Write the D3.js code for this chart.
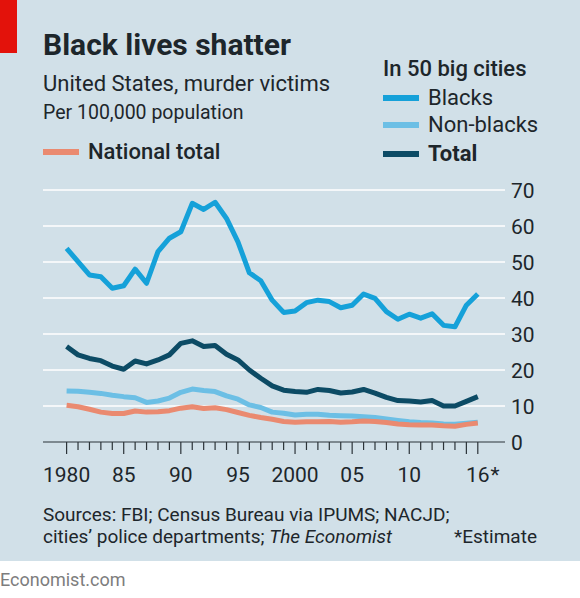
<!DOCTYPE html>
<html>
<head>
<meta charset="utf-8">
<script src="https://cdn.jsdelivr.net/npm/d3@7"></script>
<style>
  html, body { margin: 0; padding: 0; background: #ffffff; }
  svg { display: block; font-family: Roboto, "Noto Sans", sans-serif; }
</style>
</head>
<body>
<div id="chart"></div>
<script>
const years = d3.range(1980, 2017);

const blacks = [
  53.8, 50.1, 46.4, 45.9, 42.7, 43.4, 48.0, 44.1, 52.9, 56.6,
  58.4, 66.3, 64.6, 66.6, 62.1, 55.6, 47.0, 44.8, 39.4, 36.0,
  36.4, 38.7, 39.4, 39.0, 37.3, 38.0, 41.1, 39.9, 36.2, 34.1,
  35.5, 34.4, 35.6, 32.4, 32.0, 38.0, 41.1,
];

const nonBlacks = [
  14.2, 14.1, 13.8, 13.5, 13.0, 12.6, 12.3, 11.0, 11.4, 12.2,
  13.8, 14.7, 14.3, 14.0, 12.8, 11.9, 10.3, 9.6, 8.3, 8.0,
  7.5, 7.7, 7.7, 7.4, 7.3, 7.2, 7.0, 6.8, 6.4, 6.0,
  5.6, 5.4, 5.3, 5.0, 4.9, 5.2, 5.5,
];

const cityTotal = [
  26.5, 24.2, 23.2, 22.6, 21.1, 20.2, 22.5, 21.7, 22.8, 24.2,
  27.4, 28.1, 26.5, 26.8, 24.4, 22.8, 20.0, 17.7, 15.6, 14.4,
  14.0, 13.8, 14.6, 14.3, 13.6, 13.9, 14.6, 13.6, 12.4, 11.5,
  11.4, 11.1, 11.5, 10.0, 10.0, 11.3, 12.6,
];

const nationalTotal = [
  10.2, 9.8, 9.1, 8.3, 7.9, 7.9, 8.6, 8.3, 8.4, 8.7,
  9.4, 9.8, 9.3, 9.5, 9.0, 8.2, 7.4, 6.8, 6.3, 5.7,
  5.5, 5.6, 5.6, 5.7, 5.5, 5.6, 5.8, 5.7, 5.4, 5.0,
  4.8, 4.7, 4.7, 4.5, 4.4, 4.9, 5.3,
];

const yTicks = [0, 10, 20, 30, 40, 50, 60, 70];
const xLabels = [
  [1980, "1980"], [1985, "85"], [1990, "90"], [1995, "95"],
  [2000, "2000"], [2005, "05"], [2010, "10"], [2016, "16"],
];
const longTicks = [1980, 1985, 1990, 1995, 2000, 2005, 2010, 2015, 2016];

const colors = {
  bg: "#d1e0e8",
  text: "#1d262b",
  blacks: "#15a1d9",
  nonBlacks: "#6cbfe5",
  total: "#0c4b65",
  national: "#ea8a70",
};

const width = 580;
const height = 598;

const svg = d3.select("#chart")
  .append("svg")
  .attr("width", width)
  .attr("height", height);

svg.append("rect")
  .attr("width", width)
  .attr("height", 561)
  .attr("fill", colors.bg);

svg.append("rect")
  .attr("width", 17)
  .attr("height", 53)
  .attr("fill", "#e3120b");

// scales
const x = d3.scaleLinear().domain([1980, 2016]).range([66.6, 477.8]);
const y = d3.scaleLinear().domain([0, 70]).range([442, 190]);
const gridLeft = 43;
const gridRight = 505;

// gridlines
svg.append("g")
  .selectAll("line")
  .data(yTicks.filter((d) => d > 0))
  .join("line")
  .attr("x1", gridLeft)
  .attr("x2", gridRight)
  .attr("y1", (d) => y(d))
  .attr("y2", (d) => y(d))
  .attr("stroke", "#ffffff")
  .attr("stroke-width", 1.6);

// y labels
svg.append("g")
  .selectAll("text")
  .data(yTicks)
  .join("text")
  .attr("x", 511)
  .attr("y", (d) => y(d))
  .attr("dy", "0.36em")
  .attr("font-size", 21)
  .attr("fill", colors.text)
  .text((d) => d);

// x axis baseline + ticks
svg.append("line")
  .attr("x1", gridLeft)
  .attr("x2", gridRight)
  .attr("y1", y(0))
  .attr("y2", y(0))
  .attr("stroke", "#2b3338")
  .attr("stroke-width", 1.2);

svg.append("g")
  .selectAll("line")
  .data(years)
  .join("line")
  .attr("x1", (d) => x(d))
  .attr("x2", (d) => x(d))
  .attr("y1", y(0))
  .attr("y2", (d) => y(0) + (longTicks.includes(d) ? 12 : 8))
  .attr("stroke", "#2b3338")
  .attr("stroke-width", 1.2);

const xLab = svg.append("g")
  .selectAll("text")
  .data(xLabels)
  .join("text")
  .attr("x", (d) => x(d[0]))
  .attr("y", 482)
  .attr("text-anchor", "middle")
  .attr("font-size", 21)
  .attr("fill", colors.text)
  .text((d) => d[1]);

// asterisk after the last label
const lastLabel = xLab.filter((d) => d[0] === 2016);
const lastW = lastLabel.node().getComputedTextLength();
svg.append("text")
  .attr("x", x(2016) + lastW / 2 + 1)
  .attr("y", 482)
  .attr("font-size", 21)
  .attr("fill", colors.text)
  .text("*");

// lines
const seriesList = [
  { key: "nonBlacks", values: nonBlacks, color: colors.nonBlacks },
  { key: "national", values: nationalTotal, color: colors.national },
  { key: "total", values: cityTotal, color: colors.total },
  { key: "blacks", values: blacks, color: colors.blacks },
];

const line = d3.line()
  .x((d) => x(d[0]))
  .y((d) => y(d[1]));

svg.append("g")
  .selectAll("path")
  .data(seriesList)
  .join("path")
  .attr("d", (s) => line(years.map((yr, i) => [yr, s.values[i]])))
  .attr("fill", "none")
  .attr("stroke", (s) => s.color)
  .attr("stroke-width", 5)
  .attr("stroke-linejoin", "round");

// titles
svg.append("text")
  .attr("x", 43)
  .attr("y", 55)
  .attr("font-size", 30)
  .attr("font-weight", 700)
  .attr("fill", colors.text)
  .text("Black lives shatter");

svg.append("text")
  .attr("x", 43)
  .attr("y", 91)
  .attr("font-size", 22)
  .attr("fill", colors.text)
  .text("United States, murder victims");

svg.append("text")
  .attr("x", 43)
  .attr("y", 119)
  .attr("font-size", 19.5)
  .attr("fill", colors.text)
  .text("Per 100,000 population");

// legend: national
svg.append("line")
  .attr("x1", 43).attr("x2", 79)
  .attr("y1", 152).attr("y2", 152)
  .attr("stroke", colors.national)
  .attr("stroke-width", 6);

svg.append("text")
  .attr("x", 88)
  .attr("y", 159)
  .attr("font-size", 22)
  .attr("font-weight", 500)
  .attr("fill", colors.text)
  .text("National total");

// legend: cities
svg.append("text")
  .attr("x", 383)
  .attr("y", 76)
  .attr("font-size", 22)
  .attr("font-weight", 500)
  .attr("fill", colors.text)
  .text("In 50 big cities");

const legendItems = [
  { label: "Blacks", color: colors.blacks, y: 98, weight: 400 },
  { label: "Non-blacks", color: colors.nonBlacks, y: 125, weight: 400 },
  { label: "Total", color: colors.total, y: 154, weight: 700 },
];

const leg = svg.append("g")
  .selectAll("g")
  .data(legendItems)
  .join("g");

leg.append("line")
  .attr("x1", 383).attr("x2", 419)
  .attr("y1", (d) => d.y).attr("y2", (d) => d.y)
  .attr("stroke", (d) => d.color)
  .attr("stroke-width", 6);

leg.append("text")
  .attr("x", 428)
  .attr("y", (d) => d.y + 7)
  .attr("font-size", 22)
  .attr("font-weight", (d) => d.weight)
  .attr("fill", colors.text)
  .text((d) => d.label);

// footer
const src = svg.append("text")
  .attr("x", 43)
  .attr("font-size", 19)
  .attr("fill", colors.text);

src.append("tspan")
  .attr("x", 43)
  .attr("y", 521)
  .text("Sources: FBI; Census Bureau via IPUMS; NACJD;");

src.append("tspan")
  .attr("x", 43)
  .attr("y", 543)
  .text("cities\u2019 police departments; ");

src.append("tspan")
  .attr("font-style", "italic")
  .text("The Economist");

svg.append("text")
  .attr("x", 537)
  .attr("y", 543)
  .attr("text-anchor", "end")
  .attr("font-size", 19)
  .attr("fill", colors.text)
  .text("*Estimate");

svg.append("text")
  .attr("x", 0)
  .attr("y", 586)
  .attr("font-size", 18)
  .attr("fill", "#7d7d7d")
  .text("Economist.com");
</script>
</body>
</html>
